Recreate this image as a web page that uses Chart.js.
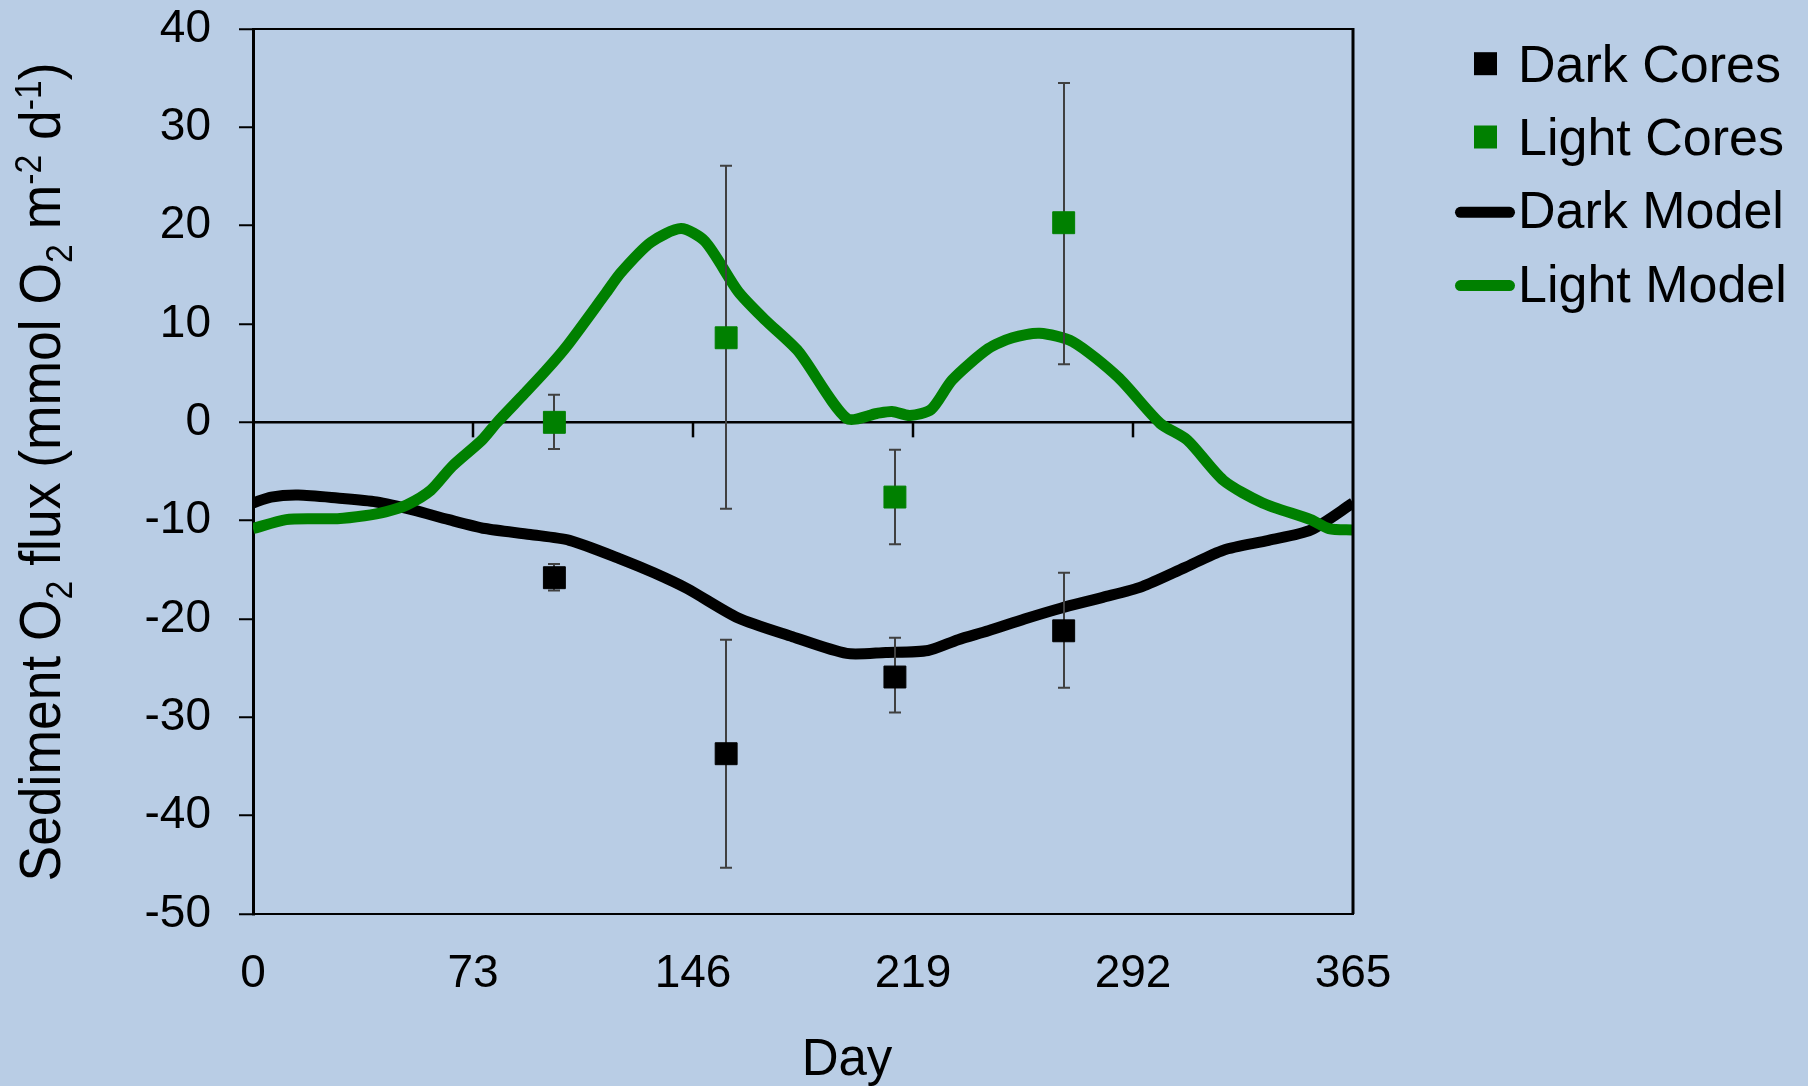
<!DOCTYPE html>
<html><head><meta charset="utf-8">
<script src="https://cdn.jsdelivr.net/npm/chart.js@4.4.0/dist/chart.umd.min.js"></script>
<style>html,body{margin:0;padding:0;background:#B9CDE5;overflow:hidden}#wrap{width:1808px;height:1086px;position:relative}</style>
</head><body><div id="wrap"><canvas id="c" width="1808" height="1086"></canvas></div>
<script>
const seriesNames = ['Dark Cores','Light Cores','Dark Model','Light Model'];
const coreDays = [100, 157, 213, 269];
const darkCores = [-15.8, -33.7, -25.9, -21.2];
const darkCoresHigh = [-14.4, -22.1, -21.9, -15.3];
const darkCoresLow = [-17.1, -45.3, -29.5, -27.0];
const lightCores = [0, 8.6, -7.6, 20.3];
const lightCoresHigh = [2.8, 26.1, -2.8, 34.5];
const lightCoresLow = [-2.7, -8.8, -12.4, 5.9];
const darkModelDays = [0,6,15,28,41,53,65,77,92,105,122,133,144,161,179,197,210,224,234,244,256,268,282,295,309,322,337,351,365];
const darkModel = [-8.2,-7.6,-7.4,-7.7,-8.1,-8.9,-9.9,-10.8,-11.4,-12.0,-13.9,-15.3,-16.9,-19.9,-21.8,-23.5,-23.4,-23.2,-22.1,-21.2,-20.0,-18.9,-17.8,-16.7,-14.8,-13.0,-12.0,-10.95,-8.2];
const lightModelDays = [0,11,20,28,37,44,51,59,66,76,81,90,97,104,117,122,132,142,150,161,170,181,197,207,212,218,225,232,244,252,261,272,287,301,310,322,335,351,357,365];
const lightModel = [-10.8,-9.9,-9.8,-9.8,-9.5,-9.1,-8.4,-6.9,-4.5,-1.8,0,2.9,5.2,7.7,13.1,15.2,18.3,19.7,18.4,13.3,10.4,7.2,0.4,0.9,1.1,0.7,1.3,4.3,7.5,8.6,9.05,8.2,4.6,-0.1,-1.8,-5.9,-8.2,-9.9,-10.8,-10.95];
const xTicks = [0, 73, 146, 219, 292, 365];
const yTicks = [-50, -40, -30, -20, -10, 0, 10, 20, 30, 40];
const xTitle = 'Day';
const yTitleParts = [['Sediment O',0],['2',-1],[' flux (mmol O',0],['2',-1],[' m',0],['-2',1],[' d',0],['-1',1],[')',0]];

const FONT = "'Liberation Sans', Arial, sans-serif";
const GREEN = '#008000';
const BG = '#B9CDE5';

function drawErrorBars(chart){
  const x = chart.scales.x, y = chart.scales.y, ctx = chart.ctx;
  ctx.save();
  ctx.strokeStyle = '#404040'; ctx.lineWidth = 2;
  [[darkCoresHigh, darkCoresLow],[lightCoresHigh, lightCoresLow]].forEach(([hi, lo]) => {
    coreDays.forEach((d, i) => {
      const px = Math.round(x.getPixelForValue(d));
      const ph = y.getPixelForValue(hi[i]), pl = y.getPixelForValue(lo[i]);
      ctx.beginPath();
      ctx.moveTo(px, ph); ctx.lineTo(px, pl);
      ctx.moveTo(px - 6, ph); ctx.lineTo(px + 6, ph);
      ctx.moveTo(px - 6, pl); ctx.lineTo(px + 6, pl);
      ctx.stroke();
    });
  });
  ctx.restore();
}

const extras = {
  id: 'extras',
  beforeDraw(chart){
    const ctx = chart.ctx;
    ctx.save(); ctx.fillStyle = BG; ctx.fillRect(0,0,chart.width,chart.height); ctx.restore();
  },
  beforeDatasetsDraw(chart){
    chart._errDone = false;
    const ctx = chart.ctx, x = chart.scales.x, y = chart.scales.y;
    const y0 = y.getPixelForValue(0);
    ctx.save();
    ctx.strokeStyle = '#000'; ctx.lineWidth = 2.5;
    xTicks.forEach(v => {
      if (v === xTicks[0] || v === xTicks[xTicks.length-1]) return;
      const px = Math.round(x.getPixelForValue(v));
      ctx.beginPath(); ctx.moveTo(px, y0); ctx.lineTo(px, y0 + 15); ctx.stroke();
    });
    ctx.restore();
  },
  beforeDatasetDraw(chart, args){
    if (chart._errDone) return;
    if (chart.data.datasets[args.index].isCore){ drawErrorBars(chart); chart._errDone = true; }
  },
  afterDraw(chart){
    const ctx = chart.ctx, a = chart.chartArea;
    ctx.save();
    ctx.strokeStyle = '#000';
    ctx.lineWidth = 2; ctx.beginPath(); ctx.moveTo(a.left, a.top); ctx.lineTo(a.right, a.top); ctx.stroke();
    ctx.lineWidth = 3; ctx.beginPath(); ctx.moveTo(a.right, a.top - 1); ctx.lineTo(a.right, a.bottom); ctx.stroke();
    ctx.fillStyle = '#000';
    ctx.font = '51px ' + FONT; ctx.textAlign = 'center'; ctx.textBaseline = 'alphabetic';
    ctx.fillText(xTitle, 847, 1075);
    const F = 57, SF = 36;
    let total = 0;
    const widths = yTitleParts.map(([t, k]) => { ctx.font = (k ? SF : F) + 'px ' + FONT; const w = ctx.measureText(t).width; total += w; return w; });
    const target = 819;
    ctx.translate(60, 472);
    ctx.rotate(-Math.PI / 2);
    ctx.scale(target / total, 1);
    ctx.textAlign = 'left';
    let cx = -total / 2;
    yTitleParts.forEach(([t, k], i) => {
      ctx.font = (k ? SF : F) + 'px ' + FONT;
      const dy = k === -1 ? 12 : (k === 1 ? -19 : 0);
      ctx.fillText(t, cx, dy);
      cx += widths[i];
    });
    ctx.restore();
    ctx.save();
    ctx.font = '52px ' + FONT; ctx.fillStyle = '#000'; ctx.textAlign = 'left'; ctx.textBaseline = 'alphabetic';
    chart.data.datasets.forEach((ds, i) => {
      const base = 81.7 + i * 73.3;
      const cy = base - 18;
      if (ds.isCore){
        ctx.fillStyle = ds.backgroundColor;
        ctx.fillRect(1474, cy - 11.5, 23, 23);
      } else {
        ctx.strokeStyle = ds.borderColor; ctx.lineWidth = 11; ctx.lineCap = 'round';
        ctx.beginPath(); ctx.moveTo(1460.5, cy + 2); ctx.lineTo(1509.5, cy + 2); ctx.stroke();
      }
      ctx.fillStyle = '#000';
      ctx.fillText(ds.label, 1518, base);
    });
    ctx.restore();
  }
};

new Chart(document.getElementById('c'), {
  type: 'scatter',
  data: {
    datasets: [
      { label: seriesNames[0], isCore: true, order: 1,
        data: coreDays.map((d, i) => ({x: d, y: darkCores[i]})),
        backgroundColor: '#000', borderColor: '#000', pointStyle: 'rect', pointRadius: 15.5, borderWidth: 1 },
      { label: seriesNames[1], isCore: true, order: 1,
        data: coreDays.map((d, i) => ({x: d, y: lightCores[i]})),
        backgroundColor: GREEN, borderColor: GREEN, pointStyle: 'rect', pointRadius: 15.5, borderWidth: 1 },
      { label: seriesNames[2], order: 3, showLine: true,
        data: darkModelDays.map((d, i) => ({x: d, y: darkModel[i]})),
        borderColor: '#000', backgroundColor: '#000', borderWidth: 11, pointRadius: 0, tension: 0.25, borderJoinStyle: 'round' },
      { label: seriesNames[3], order: 2, showLine: true,
        data: lightModelDays.map((d, i) => ({x: d, y: lightModel[i]})),
        borderColor: GREEN, backgroundColor: GREEN, borderWidth: 11, pointRadius: 0, tension: 0.25, borderJoinStyle: 'round' }
    ]
  },
  options: {
    responsive: false, animation: false, devicePixelRatio: 1,
    layout: { padding: { top: 29, right: 455, left: 0, bottom: 0 } },
    plugins: { legend: { display: false }, tooltip: { enabled: false } },
    scales: {
      x: {
        type: 'linear', min: 0, max: 365,
        afterBuildTicks: s => { s.ticks = xTicks.map(v => ({ value: v })); },
        afterFit: s => { s.height = 172; s.paddingLeft = 0; s.paddingRight = 0; },
        grid: { display: false, drawTicks: false },
        border: { display: true, color: '#000', width: 2 },
        ticks: { font: { family: FONT, size: 46 }, color: '#000', padding: 33, maxRotation: 0, autoSkip: false }
      },
      y: {
        min: -50, max: 40,
        afterBuildTicks: s => { s.ticks = yTicks.map(v => ({ value: v })); },
        afterFit: s => { s.width = 253; s.paddingTop = 0; s.paddingBottom = 0; },
        grid: { drawOnChartArea: true, color: c => (c.tick && c.tick.value === 0) ? '#000' : 'rgba(0,0,0,0)', tickColor: '#000', lineWidth: 2.5, tickWidth: 2, tickLength: 14 },
        border: { display: true, color: '#000', width: 3 },
        ticks: { font: { family: FONT, size: 46 }, color: '#000', padding: 28, autoSkip: false }
      }
    }
  },
  plugins: [extras]
});
</script>
</body></html>
